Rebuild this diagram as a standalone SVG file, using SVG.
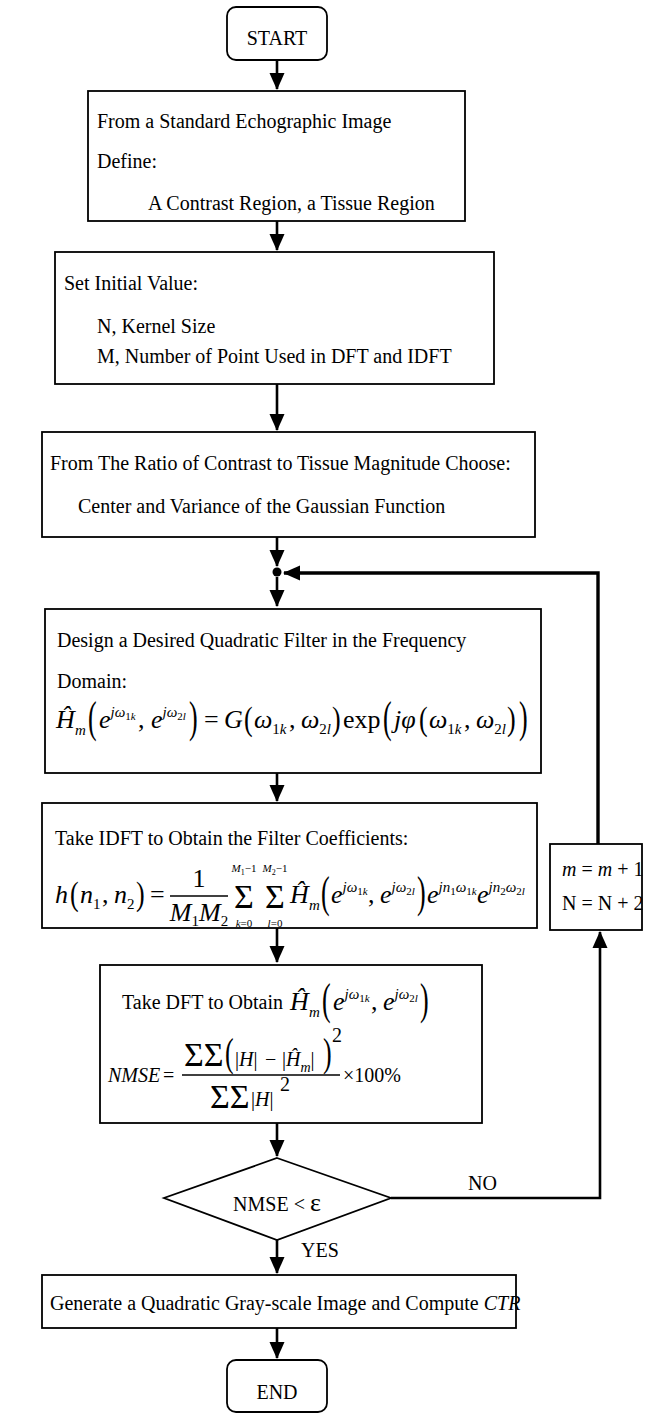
<svg xmlns="http://www.w3.org/2000/svg" width="647" height="1414" viewBox="0 0 647 1414">
<style>
text { font-family: "Liberation Serif", "Times New Roman", serif; font-size: 20px; fill: #000; }
.i { font-style: italic; }
.m { font-style: italic; font-size: 26px; }
.r26 { font-size: 26px; }
.sp { font-style: italic; font-size: 15px; }
.ss { font-style: italic; font-size: 11px; }
.sg { font-size: 34px; }
.lim { font-style: italic; font-size: 11px; }
.box { fill: #fff; stroke: #000; stroke-width: 1.8; }
.ln { fill: none; stroke: #000; stroke-width: 2.6; }
.thick { fill: none; stroke: #000; stroke-width: 3.4; }
.bar { stroke: #000; stroke-width: 1.3; }
</style>
<defs>
<marker id="ah" markerUnits="userSpaceOnUse" markerWidth="17" markerHeight="16" viewBox="0 0 17 16" refX="16" refY="8" orient="auto">
<path d="M0,0.5 L17,8 L0,15.5 z" fill="#000"/>
</marker>
</defs>
<rect width="647" height="1414" fill="#fff"/>

<g id="connectors">
<path class="ln" d="M277,60 V89" marker-end="url(#ah)"/>
<path class="ln" d="M277,221 V250" marker-end="url(#ah)"/>
<path class="ln" d="M277,384 V430" marker-end="url(#ah)"/>
<path class="ln" d="M277,537 V566" marker-end="url(#ah)"/>
<circle cx="277" cy="572" r="4.5" fill="#000"/>
<path class="ln" d="M277,577 V606" marker-end="url(#ah)"/>
<path class="thick" d="M598,844 V573 H284" marker-end="url(#ah)"/>
<path class="ln" d="M277,773 V801" marker-end="url(#ah)"/>
<path class="ln" d="M277,928 V962" marker-end="url(#ah)"/>
<path class="ln" d="M277,1123 V1156" marker-end="url(#ah)"/>
<path class="ln" d="M391,1198 H600 V932" marker-end="url(#ah)"/>
<path class="ln" d="M277,1240 V1273" marker-end="url(#ah)"/>
<path class="ln" d="M277,1328 V1358" marker-end="url(#ah)"/>
<text x="468" y="1190">NO</text>
<text x="301" y="1257">YES</text>
</g>

<g id="start">
<rect class="box" x="227" y="7" width="100" height="53" rx="9"/>
<text x="277" y="45" text-anchor="middle">START</text>
</g>

<g id="define">
<rect class="box" x="88" y="91" width="377" height="130"/>
<text x="97" y="128">From a Standard Echographic Image</text>
<text x="97" y="168">Define:</text>
<text x="148" y="210">A Contrast Region, a Tissue Region</text>
</g>

<g id="init">
<rect class="box" x="55" y="252" width="439" height="132"/>
<text x="64" y="290">Set Initial Value:</text>
<text x="97" y="333">N, Kernel Size</text>
<text x="97" y="363">M, Number of Point Used in DFT and IDFT</text>
</g>

<g id="ratio">
<rect class="box" x="42" y="432" width="493" height="105"/>
<text x="50" y="470">From The Ratio of Contrast to Tissue Magnitude Choose:</text>
<text x="78" y="513">Center and Variance of the Gaussian Function</text>
</g>

<g id="design">
<rect class="box" x="45" y="609" width="496" height="164"/>
<text x="57" y="647">Design a Desired Quadratic Filter in the Frequency</text>
<text x="57" y="688">Domain:</text>
<text class="m" x="56" y="728">Ĥ</text>
<text class="sp" x="75" y="735">m</text>
<text class="r26" transform="translate(88,732) scale(1,1.7)">(</text>
<text class="m" x="99" y="728">e<tspan class="sp" dy="-11">jω</tspan><tspan font-size="11" font-style="normal" dy="3">1</tspan><tspan class="ss">k</tspan></text>
<text class="r26" x="138" y="728">,</text>
<text class="m" x="151" y="728">e<tspan class="sp" dy="-11">jω</tspan><tspan font-size="11" font-style="normal" dy="3">2</tspan><tspan class="ss">l</tspan></text>
<text class="r26" transform="translate(189,732) scale(1,1.7)">)</text>
<text class="r26" x="204" y="728">=</text>
<text class="m" x="224" y="728">G</text>
<text class="r26" transform="translate(244,730) scale(1,1.3)">(</text>
<text class="m" x="254" y="728">ω<tspan font-size="15" font-style="normal" dy="6">1</tspan><tspan class="sp">k</tspan></text>
<text class="r26" x="289" y="728">,</text>
<text class="m" x="301" y="728">ω<tspan font-size="15" font-style="normal" dy="6">2</tspan><tspan class="sp">l</tspan></text>
<text class="r26" transform="translate(332,730) scale(1,1.3)">)</text>
<text class="r26" x="343" y="728">exp</text>
<text class="r26" transform="translate(383,732) scale(1,1.7)">(</text>
<text class="m" x="394" y="728">jφ</text>
<text class="r26" transform="translate(419,730) scale(1,1.3)">(</text>
<text class="m" x="429" y="728">ω<tspan font-size="15" font-style="normal" dy="6">1</tspan><tspan class="sp">k</tspan></text>
<text class="r26" x="464" y="728">,</text>
<text class="m" x="476" y="728">ω<tspan font-size="15" font-style="normal" dy="6">2</tspan><tspan class="sp">l</tspan></text>
<text class="r26" transform="translate(507,730) scale(1,1.3)">)</text>
<text class="r26" transform="translate(519,732) scale(1,1.7)">)</text>
</g>

<g id="idft">
<rect class="box" x="42" y="803" width="495" height="125"/>
<text x="55" y="845">Take IDFT to Obtain the Filter Coefficients:</text>
<text class="m" x="55" y="903">h</text>
<text class="r26" transform="translate(70,905) scale(1,1.3)">(</text>
<text class="m" x="80" y="903">n<tspan font-size="15" font-style="normal" dy="6">1</tspan></text>
<text class="r26" x="102" y="903">,</text>
<text class="m" x="114" y="903">n<tspan font-size="15" font-style="normal" dy="6">2</tspan></text>
<text class="r26" transform="translate(136,905) scale(1,1.3)">)</text>
<text class="r26" x="150" y="903">=</text>
<line class="bar" x1="170" y1="896" x2="228" y2="896"/>
<text class="r26" x="199" y="887" text-anchor="middle">1</text>
<text class="m" x="199" y="921" text-anchor="middle">M<tspan font-size="15" font-style="normal" dy="5">1</tspan><tspan dy="-5">M</tspan><tspan font-size="15" font-style="normal" dy="5">2</tspan></text>
<text class="sg" x="244" y="908" text-anchor="middle">Σ</text>
<text class="lim" x="244" y="872" text-anchor="middle">M<tspan font-size="8" font-style="normal" dy="3">1</tspan><tspan font-style="normal" dy="-3">−1</tspan></text>
<text class="lim" x="244" y="927" text-anchor="middle">k<tspan font-style="normal">=0</tspan></text>
<text class="sg" x="275" y="908" text-anchor="middle">Σ</text>
<text class="lim" x="275" y="872" text-anchor="middle">M<tspan font-size="8" font-style="normal" dy="3">2</tspan><tspan font-style="normal" dy="-3">−1</tspan></text>
<text class="lim" x="275" y="927" text-anchor="middle">l<tspan font-style="normal">=0</tspan></text>
<text class="m" x="290" y="903">Ĥ</text>
<text class="sp" x="309" y="910">m</text>
<text class="r26" transform="translate(321,907) scale(1,1.7)">(</text>
<text class="m" x="331" y="903">e<tspan class="sp" dy="-11">jω</tspan><tspan font-size="11" font-style="normal" dy="3">1</tspan><tspan class="ss">k</tspan></text>
<text class="r26" x="368" y="903">,</text>
<text class="m" x="380" y="903">e<tspan class="sp" dy="-11">jω</tspan><tspan font-size="11" font-style="normal" dy="3">2</tspan><tspan class="ss">l</tspan></text>
<text class="r26" transform="translate(417,907) scale(1,1.7)">)</text>
<text class="m" x="427" y="903">e<tspan class="sp" dy="-11">jn</tspan><tspan font-size="11" font-style="normal" dy="3">1</tspan><tspan class="sp" dy="-3">ω</tspan><tspan font-size="11" font-style="normal" dy="3">1</tspan><tspan class="ss">k</tspan></text>
<text class="m" x="477" y="903">e<tspan class="sp" dy="-11">jn</tspan><tspan font-size="11" font-style="normal" dy="3">2</tspan><tspan class="sp" dy="-3">ω</tspan><tspan font-size="11" font-style="normal" dy="3">2</tspan><tspan class="ss">l</tspan></text>
</g>

<g id="update">
<rect class="box" x="550" y="844" width="92" height="86"/>
<text x="562" y="876" font-size="16"><tspan class="i">m</tspan> = <tspan class="i">m</tspan> + 1</text>
<text x="562" y="910" font-size="16">N = N + 2</text>
</g>

<g id="dft">
<rect class="box" x="100" y="965" width="382" height="158"/>
<text x="122" y="1009">Take DFT to Obtain</text>
<text class="m" x="290" y="1010">Ĥ</text>
<text class="sp" x="309" y="1017">m</text>
<text class="r26" transform="translate(322,1014) scale(1,1.7)">(</text>
<text class="m" x="333" y="1010">e<tspan class="sp" dy="-11">jω</tspan><tspan font-size="11" font-style="normal" dy="3">1</tspan><tspan class="ss">k</tspan></text>
<text class="r26" x="371" y="1010">,</text>
<text class="m" x="383" y="1010">e<tspan class="sp" dy="-11">jω</tspan><tspan font-size="11" font-style="normal" dy="3">2</tspan><tspan class="ss">l</tspan></text>
<text class="r26" transform="translate(420,1014) scale(1,1.7)">)</text>
<text class="i" x="108" y="1082">NMSE</text>
<text font-size="24" x="163" y="1082">=</text>
<line class="bar" x1="182" y1="1075" x2="340" y2="1075"/>
<text class="sg" x="184" y="1066">ΣΣ</text>
<text class="r26" transform="translate(225,1066) scale(1,1.5)">(</text>
<text font-size="24" x="235" y="1066">|<tspan font-style="italic">H</tspan>|</text>
<text font-size="24" x="265" y="1066">−</text>
<text font-size="24" x="282" y="1066">|<tspan font-style="italic">Ĥ</tspan><tspan font-size="14" font-style="italic" dy="6">m</tspan><tspan dy="-6">|</tspan></text>
<text class="r26" transform="translate(323,1066) scale(1,1.5)">)</text>
<text font-size="14" x="332" y="1042">2</text>
<text class="sg" x="210" y="1108">ΣΣ</text>
<text font-size="24" x="251" y="1106">|<tspan font-style="italic">H</tspan>|</text>
<text font-size="14" x="280" y="1091">2</text>
<text font-size="22" x="343" y="1082">×100%</text>
</g>

<g id="decision">
<polygon class="box" points="277,1158 391,1198 277,1240 164,1198"/>
<text x="277" y="1211" text-anchor="middle">NMSE &lt; <tspan font-size="26">ε</tspan></text>
</g>

<g id="generate">
<rect class="box" x="42" y="1275" width="474" height="53"/>
<text x="50" y="1310" font-size="19">Generate a Quadratic Gray-scale Image and Compute <tspan class="i">CTR</tspan></text>
</g>

<g id="end">
<rect class="box" x="227" y="1360" width="100" height="52" rx="9"/>
<text x="277" y="1399" text-anchor="middle">END</text>
</g>
</svg>
